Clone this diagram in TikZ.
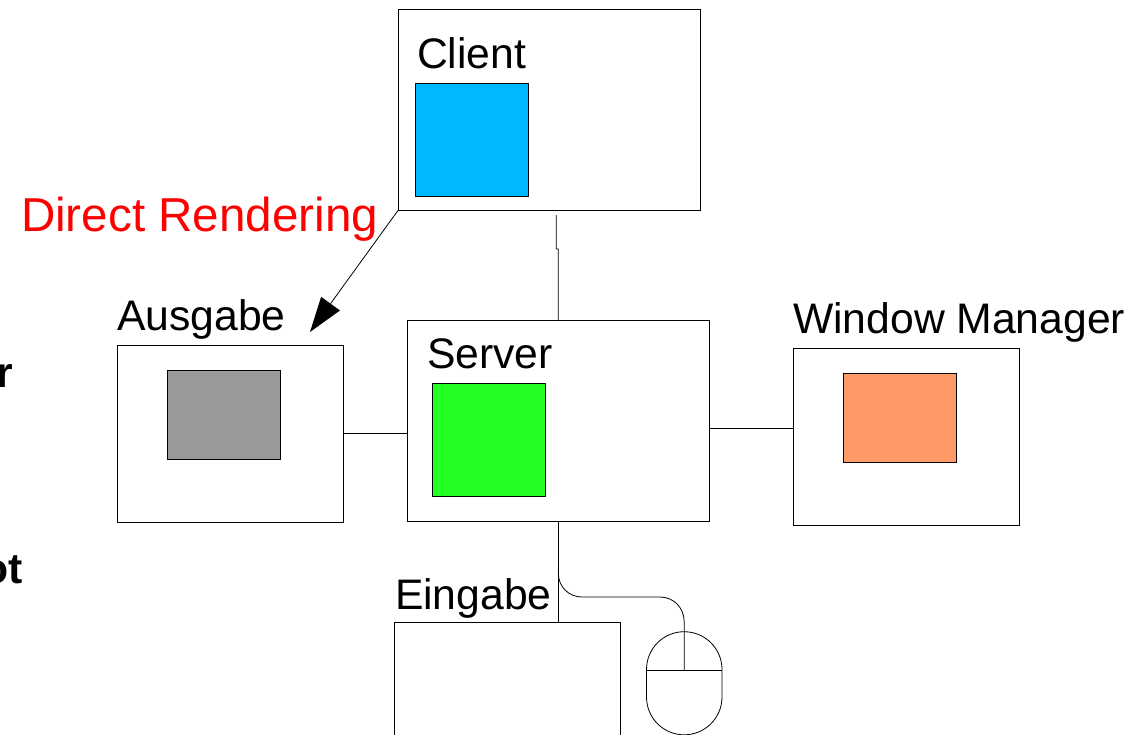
\documentclass[tikz,border=0pt]{standalone}
\usepackage{fontspec}
\setmainfont{Liberation Sans}
\usetikzlibrary{arrows.meta}
\definecolor{cblue}{HTML}{00B8FF}
\definecolor{cgreen}{HTML}{23FF23}
\definecolor{cgray}{HTML}{999999}
\definecolor{corange}{HTML}{FF9966}
\definecolor{cred}{HTML}{FF0000}
\tikzset{
  box/.style n args={2}{draw=black,line width=0.8pt,fill=white,minimum width=#1 pt,minimum height=#2 pt,inner sep=0pt,outer sep=0pt,anchor=north west},
  inner box/.style n args={3}{box={#1}{#2},fill=#3},
  lbl/.style={font=\fontsize{42.7}{43}\selectfont,anchor=base west,inner sep=0pt,outer sep=0pt,text=black},
  conn/.style={draw=black,line width=0.8pt},
}
\begin{document}
\begin{tikzpicture}[x=1pt,y=-1pt]
\clip (0,0) rectangle (1139,734);
\fill[white] (0,0) rectangle (1139,734);
% boxes
\node[box={302.8}{201}] (client) at (397.9,9.6) {};
\node[box={302.8}{201}] (server) at (406.9,319.9) {};
\node[box={226.9}{177}] (ausgabe) at (116.9,344.9) {};
\node[box={226.9}{177}] (wm) at (792.9,347.9) {};
\node[box={226.9}{177}] (eingabe) at (393.9,622.1) {};
% inner boxes
\node[inner box={113}{113}{cblue}] (cinner) at (414.9,82.9) {};
\node[inner box={113.8}{113}{cgreen}] (sinner) at (431.9,382.9) {};
\node[inner box={113.8}{89}{cgray}] (ainner) at (166.9,369.9) {};
\node[inner box={113.8}{89}{corange}] (winner) at (842.9,372.9) {};
% labels
\node[lbl] (lclient) at (417,68) {Client};
\node[lbl] (lserver) at (427,368) {Server};
\node[lbl] (lausgabe) at (117,330) {Ausgabe};
\node[lbl] (lwm) at (793,333) {Window Manager};
\node[lbl] (leingabe) at (395,609) {Eingabe};
\node[lbl,font=\fontsize{47.6}{48}\selectfont,text=cred] (ldirect) at (21,231) {Direct Rendering};
\node[lbl,font=\bfseries\fontsize{42.7}{43}\selectfont] (fr) at (-4,387) {r};
\node[lbl,font=\bfseries\fontsize{42.7}{43}\selectfont] (fot) at (-17.6,583) {ot};
% connectors
\coordinate (cstart) at (556.3,215);
\coordinate (cjog) at (558.3,249);
\draw[conn] (cstart) -- (cstart |- cjog) -- (cjog) -- (server.north);
\draw[conn] (ausgabe.east) -- (ausgabe.east -| server.west);
\draw[conn] ([yshift=-8pt]server.east) -- ([yshift=-8pt]server.east -| wm.west);
\draw[conn] (server.south) -- (server.south |- eingabe.north);
\draw[line width=0.8pt,-{Triangle[length=35pt,width=23pt]}] (client.south west) -- (310,332);
% mouse
\coordinate (mdiv) at (684.2,670);
\draw[conn] (646.5,669.5) .. controls (646.5,648.6) and (663.3,631.7) .. (684.2,631.7)
  .. controls (705.1,631.7) and (722,648.6) .. (722,669.5)
  -- (722,697) .. controls (722,717.9) and (705.1,734.8) .. (684.2,734.8)
  .. controls (663.3,734.8) and (646.5,717.9) .. (646.5,697) -- cycle;
\draw[conn] (646.5,670) -- (722,670);
\draw[conn] (558.3,573) .. controls (558.3,587) and (569,597) .. (582,597) -- (660,597)
  .. controls (674,597) and (684.2,608) .. (684.2,622) -- (mdiv);
\end{tikzpicture}
\end{document}
